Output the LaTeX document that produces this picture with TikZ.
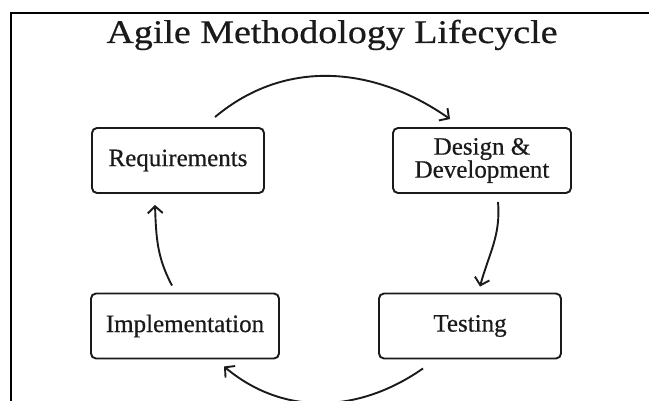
\documentclass[tikz,border=0pt]{standalone}
\usepackage{fontspec}
\setmainfont{Liberation Serif}
\newfontfamily\titlefont[FakeStretch=1.15,FakeBold=0.6]{Liberation Serif}
\newfontfamily\stagefont[FakeBold=0.5]{Liberation Serif}
\usetikzlibrary{arrows.meta}
\definecolor{ink}{HTML}{1A1A1A}
\tikzset{
  stage/.style={draw=ink,line width=1.9pt,rounded corners=5pt,minimum height=65pt,inner sep=2pt,align=center,text=ink,font=\stagefont\fontsize{25}{23}\selectfont},
  cyc/.style={draw=ink,line width=1.9pt,-{Straight Barb[length=7pt,width=15pt,line width=1.9pt]}}
}
\begin{document}
\begin{tikzpicture}[x=1pt,y=1pt]
\useasboundingbox(0,0)rectangle(649,-401);
\fill[white](0,0)rectangle(649,-401);
\draw[line width=1.3pt](11,-401)--(11,-13)--(649,-13);
\node[anchor=base,text=ink,font=\titlefont\fontsize{33}{36}\selectfont](title)at(332,-43){Agile Methodology Lifecycle};
% the four stages
\node[stage,minimum width=172pt](req)at(178,-160.5){Requirements};
\node[stage,minimum width=178pt](dsg)at(482,-160.5){Design \&\\Development};
\node[stage,minimum width=182pt](tst)at(470,-326){Testing};
\node[stage,minimum width=188pt](imp)at(185,-326){Implementation};
% the cycle
\draw[cyc]([shift={(37,10)}]req.north)to[out=40,in=145]([shift={(-32,8)}]dsg.north);
\draw[cyc]([shift={(16,-8)}]dsg.south)to[out=-85,in=75]([shift={(10,6)}]tst.north);
\draw[cyc]([shift={(-47,-9)}]tst.south)to[out=-145,in=-40]([shift={(39,-7)}]imp.south);
\draw[cyc]([shift={(-13,7)}]imp.north)to[out=118,in=-88]([shift={(-23,-11)}]req.south);
\end{tikzpicture}
\end{document}
